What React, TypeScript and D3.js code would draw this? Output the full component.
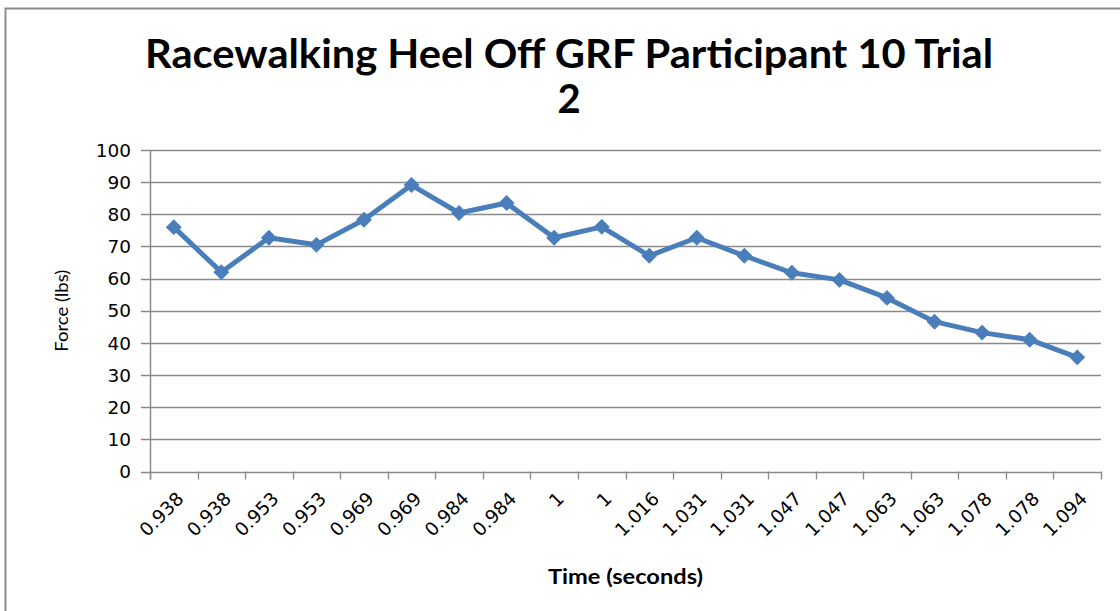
import React from 'react';
import * as d3 from 'd3';

const times = ['0.938', '0.938', '0.953', '0.953', '0.969', '0.969', '0.984', '0.984', '1', '1',
  '1.016', '1.031', '1.031', '1.047', '1.047', '1.063', '1.063', '1.078', '1.078', '1.094'];
const force = [76, 62, 72.7, 70.5, 78.3, 89.1, 80.4, 83.5, 72.7, 76.1,
  67.1, 72.7, 67.1, 61.8, 59.6, 54, 46.6, 43.2, 41, 35.5];
const yTicks = [0, 10, 20, 30, 40, 50, 60, 70, 80, 90, 100];

const W = 1120;
const H = 611;
const left = 150;
const right = 1101;
const top = 150;
const bottom = 471.5;

export default function App() {
  const idx = times.map((_, i) => i);
  const x = d3.scaleBand<number>().domain(idx).range([left, right]);
  const y = d3.scaleLinear().domain([0, 100]).range([bottom, top]);
  const cx = (i: number) => (x(i) as number) + x.bandwidth() / 2;

  const line = d3.line<number>()
    .x((_, i) => cx(i))
    .y((d) => y(d));
  const marker = d3.symbol().type(d3.symbolSquare).size(105)();

  const boundaries = d3.range(times.length + 1).map((i) => left + i * x.bandwidth());

  return (
    <svg width={W} height={H} style={{ position: 'absolute', left: 0, top: 0, background: '#fff' }}>
      {/* chart frame */}
      <rect x={5.5} y={8.5} width={1130} height={620} fill="#fff" stroke="#8c8c8c" strokeWidth={2} />

      {/* title */}
      <text x={569} y={68} textAnchor="middle" fontFamily="Lato, 'Open Sans', sans-serif" fontWeight="bold"
        fontSize={40} textLength={848} lengthAdjust="spacingAndGlyphs" fill="#000">
        Racewalking Heel Off GRF Participant 10 Trial
      </text>
      <text x={569} y={113} textAnchor="middle" fontFamily="Lato, 'Open Sans', sans-serif" fontWeight="bold"
        fontSize={40} fill="#000">2</text>

      {/* gridlines + y ticks */}
      {yTicks.map((t) => (
        <g key={t}>
          <line x1={left - 9} x2={right} y1={Math.round(y(t)) + 0.5} y2={Math.round(y(t)) + 0.5}
            stroke="#8a8a8a" strokeWidth={1.3} />
          <text x={131} y={y(t)} dy="0.36em" textAnchor="end" fontFamily="'DejaVu Sans', Verdana, sans-serif"
            fontSize={18.5} fill="#000">{t}</text>
        </g>
      ))}

      {/* y axis */}
      <line x1={left + 0.5} x2={left + 0.5} y1={top} y2={bottom + 8} stroke="#8a8a8a" strokeWidth={1.5} />

      {/* x ticks */}
      {boundaries.map((b, i) => (
        <line key={i} x1={Math.round(b) + 0.5} x2={Math.round(b) + 0.5} y1={bottom} y2={bottom + 8}
          stroke="#8a8a8a" strokeWidth={1.3} />
      ))}

      {/* x labels */}
      {times.map((t, i) => (
        <text key={i} transform={`translate(${cx(i) + 11},${500}) rotate(-45)`} textAnchor="end"
          fontFamily="'DejaVu Sans', Verdana, sans-serif" fontSize={18.5} fill="#000">{t}</text>
      ))}

      {/* axis titles */}
      <text x={(left + right) / 2} y={584} textAnchor="middle" fontFamily="Lato, 'Open Sans', sans-serif"
        fontWeight="bold" fontSize={20} textLength={155} lengthAdjust="spacingAndGlyphs" fill="#000">Time (seconds)</text>
      <text transform={`translate(68,${(top + bottom) / 2}) rotate(-90)`} textAnchor="middle"
        fontFamily="Lato, 'Open Sans', sans-serif" fontSize={18} textLength={82} lengthAdjust="spacingAndGlyphs"
        fill="#000">Force (lbs)</text>

      {/* series */}
      <path d={line(force) || ''} fill="none" stroke="#4a7ebb" strokeWidth={5} strokeLinejoin="round" />
      {force.map((v, i) => (
        <path key={i} d={marker || ''} transform={`translate(${cx(i)},${y(v)}) rotate(45)`}
          fill="#4a7ebb" stroke="#4a7ebb" strokeWidth={1} />
      ))}
    </svg>
  );
}
